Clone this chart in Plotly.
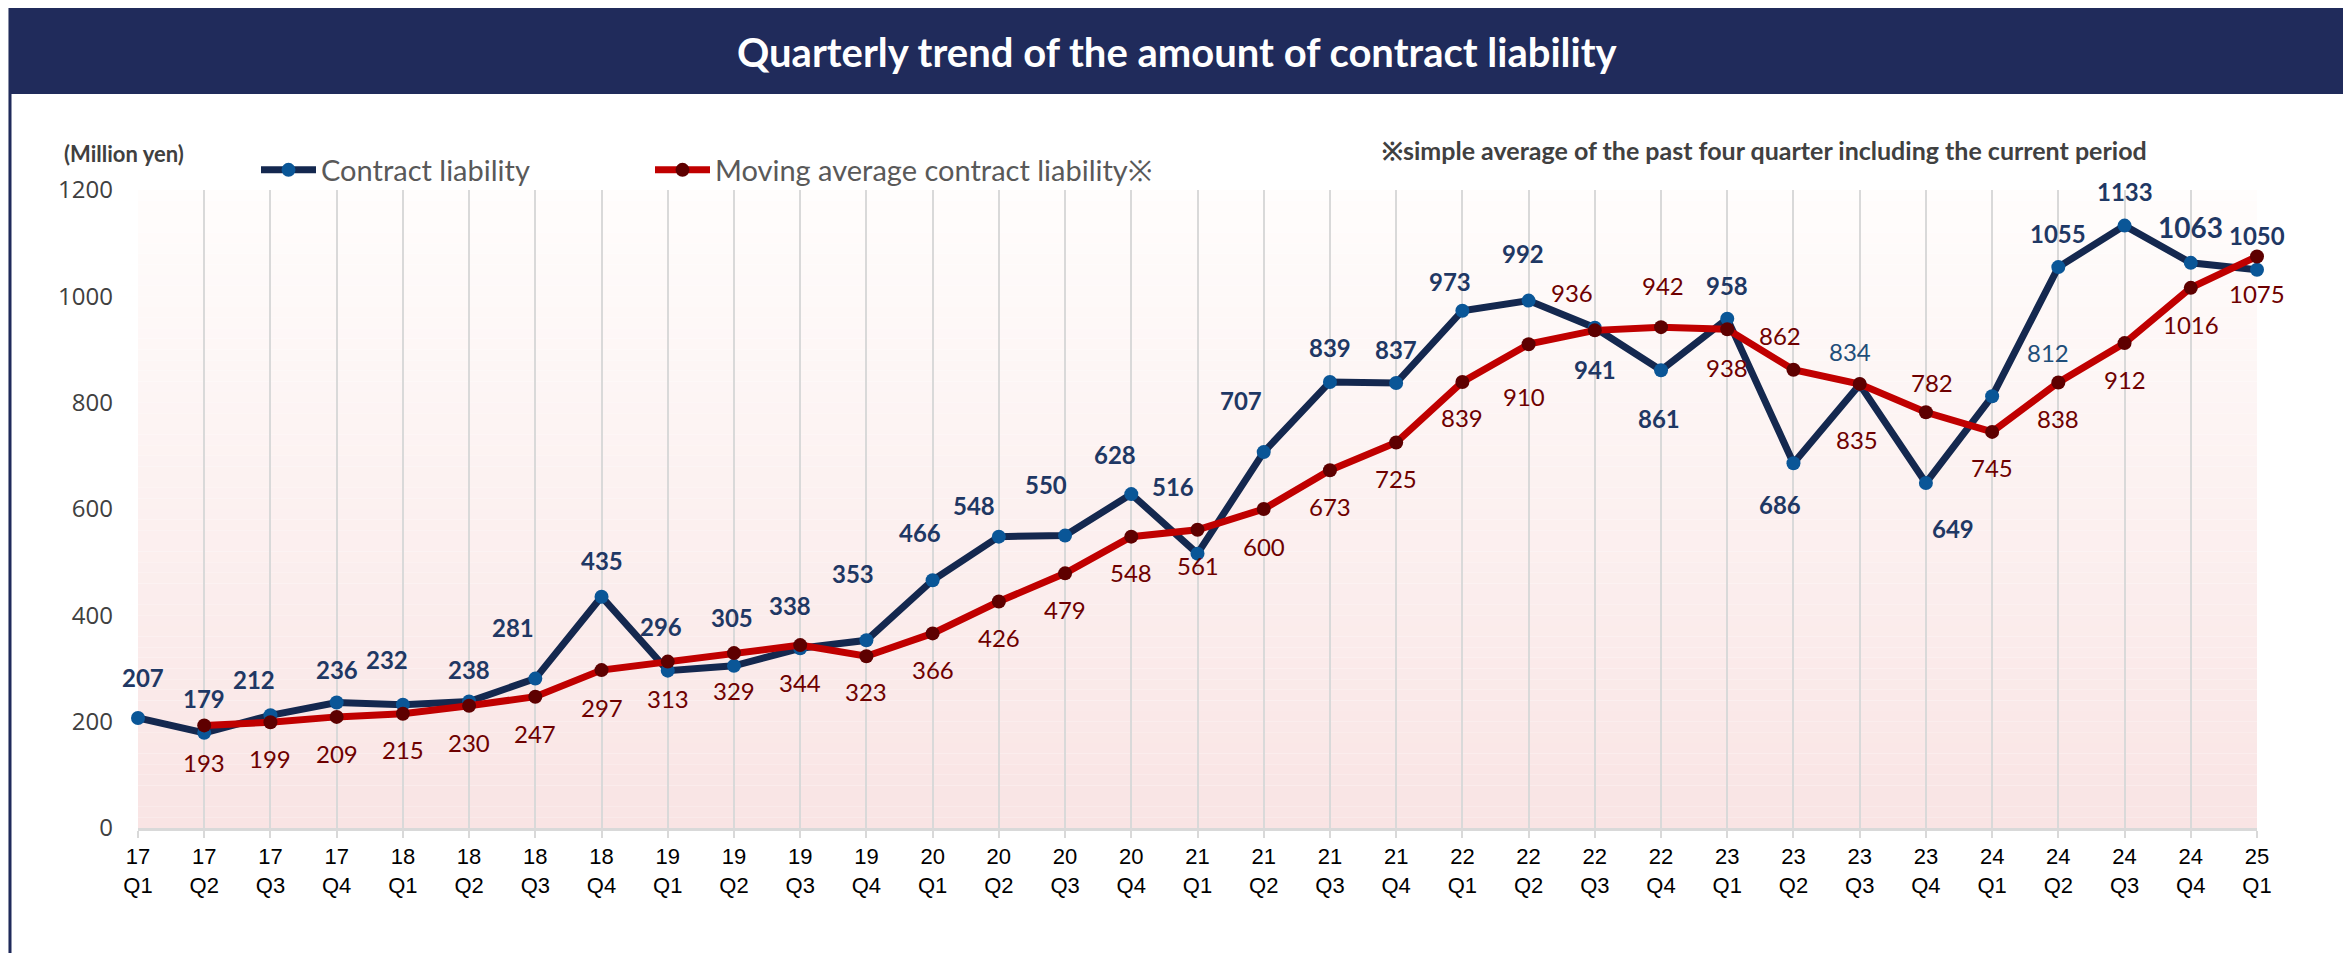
import plotly.graph_objects as go

# ---------------- data ----------------
quarters = ["17<br>Q1", "17<br>Q2", "17<br>Q3", "17<br>Q4",
            "18<br>Q1", "18<br>Q2", "18<br>Q3", "18<br>Q4",
            "19<br>Q1", "19<br>Q2", "19<br>Q3", "19<br>Q4",
            "20<br>Q1", "20<br>Q2", "20<br>Q3", "20<br>Q4",
            "21<br>Q1", "21<br>Q2", "21<br>Q3", "21<br>Q4",
            "22<br>Q1", "22<br>Q2", "22<br>Q3", "22<br>Q4",
            "23<br>Q1", "23<br>Q2", "23<br>Q3", "23<br>Q4",
            "24<br>Q1", "24<br>Q2", "24<br>Q3", "24<br>Q4",
            "25<br>Q1"]
contract_liability = [207, 179, 212, 236, 232, 238, 281, 435, 296, 305, 338, 353,
                      466, 548, 550, 628, 516, 707, 839, 837, 973, 992, 941, 861,
                      958, 686, 834, 649, 812, 1055, 1133, 1063, 1050]
# moving average starts at 17Q2
moving_average = [193, 199, 209, 215, 230, 247, 297, 313, 329, 344, 323, 366,
                  426, 479, 548, 561, 600, 673, 725, 839, 910, 936, 942, 938,
                  862, 835, 782, 745, 838, 912, 1016, 1075]
y_ticks = [0, 200, 400, 600, 800, 1000, 1200]

# ---------------- label styling (pixel offsets, +dy = down) ----------------
cl_offsets = [(5, -40), (0, -34), (-16, -36), (0, -33), (-16, -45), (0, -32), (-22, -51),
              (0, -36), (-7, -44), (-2, -48), (-10, -43), (-13, -67), (-13, -48), (-25, -31),
              (-19, -51), (-16, -40), (-25, -67), (-23, -52), (0, -34), (0, -34), (-12, -29),
              (-6, -47), (0, 42), (-2, 48), (0, -33), (-13, 41), (-10, -33), (27, 46),
              (56, -44), (0, -34), (0, -34), (0, -36), (0, -34)]
ma_offsets = [(0, 37), (0, 36), (0, 37), (0, 36), (0, 37), (0, 37), (0, 37), (0, 37),
              (0, 37), (0, 37), (0, 35), (0, 36), (0, 36), (0, 36), (0, 36), (0, 36),
              (0, 37), (0, 36), (0, 36), (0, 36), (-5, 52), (-23, -38), (2, -42), (0, 38),
              (-13, -34), (-3, 55), (6, -30), (0, 36), (0, 36), (0, 36), (0, 37), (0, 37)]
cl_plain = {26, 28}      # drawn non-bold in the reference
cl_big = {31}

FONT = "Lato, 'Open Sans', sans-serif"
NAVY_LINE = "#14284f"
NAVY_MARK = "#0a5697"
RED_LINE = "#c00000"
RED_MARK = "#5e0000"
CL_TXT = "#1f3864"
MA_TXT = "#6e0000"

OFF = 8                      # page body margin shift
W, H = 2351, 953
PLOT_L, PLOT_R, PLOT_T, PLOT_B = 138, 2257, 190, 828   # target page pixels
ML, MT = PLOT_L - OFF, PLOT_T - OFF
MR, MB = W - (PLOT_R - OFF), H - (PLOT_B - OFF)
PW, PH = PLOT_R - PLOT_L, PLOT_B - PLOT_T


def px(x):
    return (x - PLOT_L) / PW


def py(y):
    return (PLOT_B - y) / PH


x_cl = list(range(len(contract_liability)))
x_ma = list(range(1, 1 + len(moving_average)))

fig = go.Figure()
fig.add_trace(go.Scatter(
    x=x_cl, y=contract_liability, mode="lines+markers", name="Contract liability",
    line=dict(color=NAVY_LINE, width=7),
    marker=dict(color=NAVY_MARK, size=14),
    cliponaxis=False, hoverinfo="skip", legend="legend"))
fig.add_trace(go.Scatter(
    x=x_ma, y=moving_average, mode="lines+markers",
    name="Moving average contract liability※",
    line=dict(color=RED_LINE, width=7),
    marker=dict(color=RED_MARK, size=14),
    cliponaxis=False, hoverinfo="skip", legend="legend2"))

annotations = []
for i, (xv, yv) in enumerate(zip(x_cl, contract_liability)):
    dx, dy = cl_offsets[i]
    if i in cl_plain:
        txt, col = str(yv), "#1f4e79"
    else:
        txt, col = "<b>%d</b>" % yv, CL_TXT
    annotations.append(dict(x=xv, y=yv, xref="x", yref="y", text=txt, showarrow=False,
                            xshift=dx, yshift=-dy,
                            font=dict(family=FONT, size=28 if i in cl_big else 24, color=col)))
for i, (xv, yv) in enumerate(zip(x_ma, moving_average)):
    dx, dy = ma_offsets[i]
    annotations.append(dict(x=xv, y=yv, xref="x", yref="y", text=str(yv), showarrow=False,
                            xshift=dx, yshift=-dy,
                            font=dict(family=FONT, size=24, color=MA_TXT)))

# Title and side texts
annotations.append(dict(x=px(1177), y=py(52), xref="paper", yref="paper",
                        text="<b>Quarterly trend of the amount of contract liability</b>",
                        showarrow=False, xanchor="center", yanchor="middle",
                        font=dict(family=FONT, size=40, color="white")))
annotations.append(dict(x=px(124), y=py(154), xref="paper", yref="paper",
                        text="<b>(Million yen)</b>", showarrow=False,
                        xanchor="center", yanchor="middle",
                        font=dict(family=FONT, size=22, color="#404040")))
annotations.append(dict(x=px(1380), y=py(150), xref="paper", yref="paper",
                        text="<b>※simple average of the past four quarter including the current period</b>",
                        showarrow=False, xanchor="left", yanchor="middle",
                        font=dict(family=FONT, size=25, color="#404040")))

shapes = []
# white panel with navy border
shapes.append(dict(type="rect", xref="paper", yref="paper", layer="below",
                   x0=px(10), x1=px(2345), y0=py(H + 20), y1=py(4),
                   fillcolor="white", line=dict(color="#1f2a5b", width=3)))
# title bar
shapes.append(dict(type="rect", xref="paper", yref="paper", layer="below",
                   x0=px(9), x1=px(2346), y0=py(94), y1=py(3),
                   fillcolor="#202b5b", line=dict(width=0)))
# plot-area vertical gradient (white -> pale pink)
n = 60
top = (255, 253, 252)
bot = (249, 228, 228)
for k in range(n):
    t = (k + 0.5) / n
    c = tuple(round(bot[j] + (top[j] - bot[j]) * t) for j in range(3))
    shapes.append(dict(type="rect", xref="x domain", yref="y domain", layer="below",
                       x0=0, x1=1, y0=k / n, y1=(k + 1) / n,
                       fillcolor="rgb(%d,%d,%d)" % c, line=dict(width=0)))

legend_common = dict(orientation="h", yanchor="middle", xanchor="left",
                     font=dict(family=FONT, size=29, color="#595959"),
                     itemwidth=55,
                     bgcolor="rgba(0,0,0,0)", itemclick=False, itemdoubleclick=False)

fig.update_layout(
    width=W, height=H,
    margin=dict(l=ML, r=MR, t=MT, b=MB, pad=0),
    paper_bgcolor="#f2f2f2",
    plot_bgcolor="rgba(0,0,0,0)",
    font=dict(family=FONT),
    showlegend=True,
    legend=dict(x=px(256), y=py(170), **legend_common),
    legend2=dict(x=px(650), y=py(170), **legend_common),
    xaxis=dict(range=[0, len(quarters) - 1], tickmode="array",
               tickvals=list(range(len(quarters))), ticktext=quarters,
               showgrid=True, gridcolor="#d9d9d9", gridwidth=2,
               showline=True, linecolor="#d9d9d9", linewidth=3,
               ticks="outside", ticklen=7, tickcolor="#d9d9d9", tickwidth=2,
               tickfont=dict(family="'Liberation Sans', Arial, sans-serif", size=22, color="#000000"),
               zeroline=False, fixedrange=True),
    yaxis=dict(range=[0, 1200], tickmode="array", tickvals=y_ticks,
               showgrid=False, zeroline=False, showline=False, ticks="",
               ticklabelstandoff=24,
               tickfont=dict(family="'Open Sans', 'Noto Sans', sans-serif", size=24, color="#404040"),
               fixedrange=True),
    annotations=annotations,
    shapes=shapes,
)

fig.write_html("out.html")
